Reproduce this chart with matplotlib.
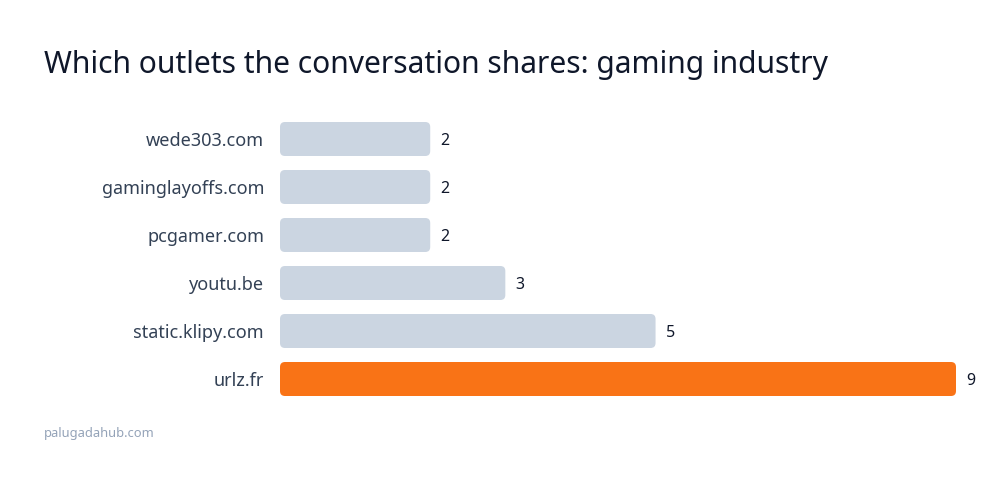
import matplotlib
matplotlib.use("Agg")
import matplotlib.pyplot as plt
from matplotlib.patches import FancyBboxPatch

# data, top to bottom
outlets = ["wede303.com", "gaminglayoffs.com", "pcgamer.com", "youtu.be", "static.klipy.com", "urlz.fr"]
shares = [2, 2, 2, 3, 5, 9]
highlight = "urlz.fr"

plt.rcParams['font.family'] = ['Noto Sans', 'DejaVu Sans']

fig = plt.figure(figsize=(10, 4.86), dpi=100)
fig.patch.set_facecolor("white")
ax = fig.add_axes([0.28, 83 / 486, 0.676, 288 / 486])

xmax = max(shares)
ax.set_xlim(0, xmax)
ax.set_ylim(len(outlets) - 0.5, -0.5)
ax.axis("off")

# rounded bars: ~75 px per x unit, 48 px per y unit
bar_h = 34 / 48
r = 5 / 75.1
aspect = (5 / 48) / r
for i, (name, v) in enumerate(zip(outlets, shares)):
    color = "#f97316" if name == highlight else "#cbd5e1"
    patch = FancyBboxPatch((0, i - bar_h / 2), v, bar_h,
                           boxstyle=f"round,pad=0,rounding_size={r}",
                           mutation_aspect=aspect,
                           facecolor=color, edgecolor="none")
    ax.add_patch(patch)
    ax.annotate(str(v), (v, i), xytext=(7.2, 0), textcoords="offset points",
                ha="left", va="center_baseline", fontsize=11.5, color="#0f172a")
    ax.annotate(name, (0, i), xytext=(-11.5, 0), textcoords="offset points",
                ha="right", va="center_baseline", fontsize=13, color="#334155",
                annotation_clip=False)

fig.text(0.044, 1 - 65 / 486, "Which outlets the conversation shares: gaming industry",
         ha="left", va="center", fontsize=21.6, color="#0f172a")
fig.text(0.044, 1 - 433 / 486, "palugadahub.com",
         ha="left", va="center", fontsize=9.3, color="#94a3b8")

fig.savefig("out.png", dpi=100, facecolor="white")
